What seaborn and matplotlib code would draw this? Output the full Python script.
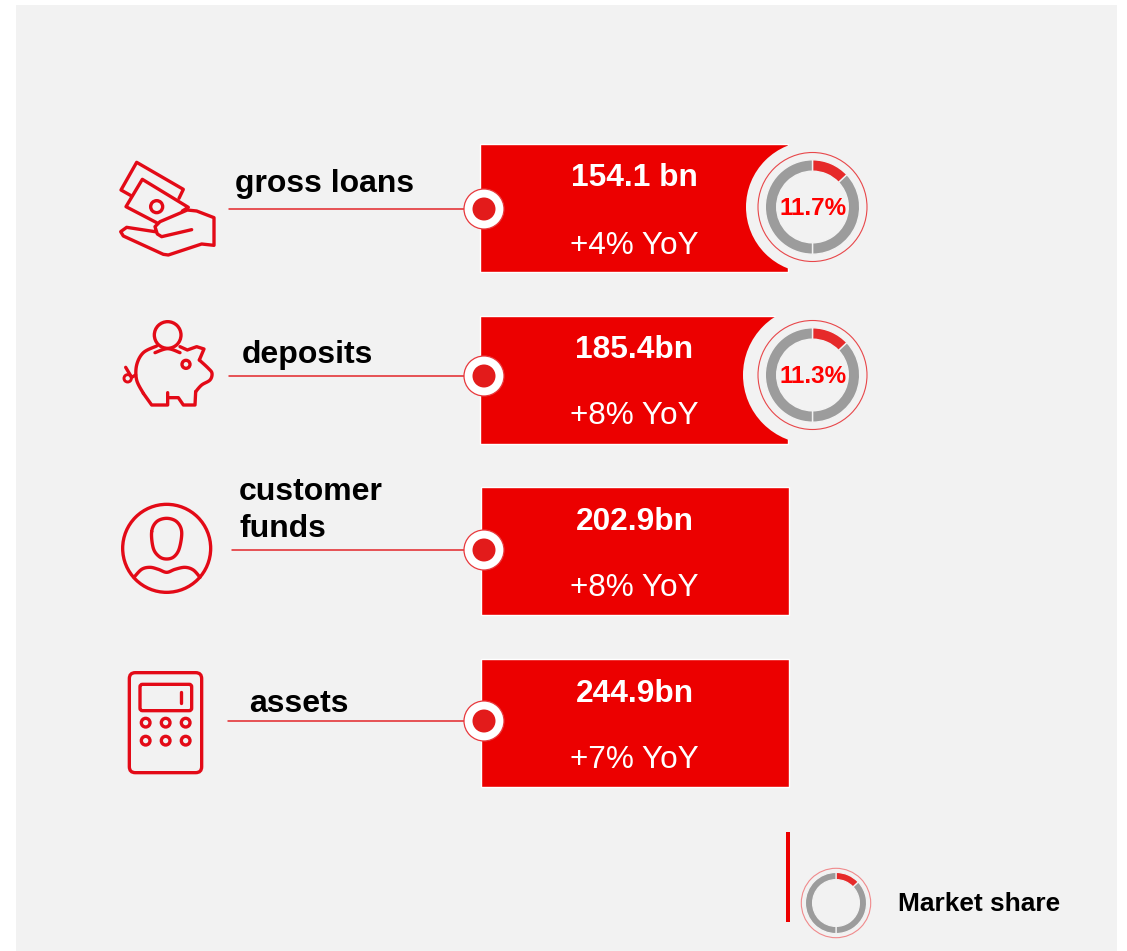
import numpy as np
import pandas as pd
import matplotlib
matplotlib.use("Agg")
import matplotlib.pyplot as plt
from matplotlib.patches import Circle, Rectangle, FancyBboxPatch
import seaborn as sns

# ---- data
metrics = ["gross loans", "deposits", "customer\nfunds", "assets"]
amounts = ["154.1 bn", "185.4bn", "202.9bn", "244.9bn"]
yoy = ["+4% YoY", "+8% YoY", "+8% YoY", "+7% YoY"]
market_share = ["11.7%", "11.3%"]
ring_parts = [13, 37, 50]          # the ring artwork: red arc, grey arc, grey half
legend_label = "Market share"

# ---- layout (pixels of the 1127x951 canvas)
box_centres = [208.0, 380.0, 551.0, 722.5]
box_lefts = [479.5, 479.5, 480.5, 480.5]
box_span = [308, 308, 308, 308]
box_height = 128.0
label_pos = [(235, 184), (242, 355), (239, 510.5), (249, 704)]
line_y = [209, 376, 550, 721]
line_x0 = [229, 229, 232, 228]
value_y = [178.5, 350.5, 522, 694]
yoy_y = [245.5, 416.5, 588.5, 760.5]
ring_centres = [(812.5, 207), (812.5, 375)]
cut_radius = [66, 69]

RED = "#EC0000"
ICON = "#E30A17"
DOT = "#E31B1B"
BG = "#F2F2F2"
GREY = "#9C9C9C"
ARC = "#E62A2A"
FONT = ["Liberation Sans", "DejaVu Sans"]

sns.set_theme(style="white")
plt.rcParams["font.family"] = FONT

fig = plt.figure(figsize=(11.27, 9.51), dpi=100, facecolor="white")
ax = fig.add_axes([0, 0, 1, 1])
ax.add_patch(Rectangle((16, 5), 1101, 946, fc=BG, ec="none", zorder=0))

table = pd.DataFrame({"centre": box_centres, "span": box_span})
sns.barplot(data=table, x="span", y="centre", orient="y", native_scale=True,
            width=box_height / 171, left=box_lefts, color=RED, saturation=1,
            legend=False, zorder=2, ax=ax)


def ring(cx, cy, outer, band, halo, halo_col, lw=1.0):
    ax.add_patch(Circle((cx, cy), halo, fc="none", ec=halo_col, lw=0.8, zorder=4))
    ax.pie(ring_parts, colors=[ARC, GREY, GREY], center=(cx, cy), radius=outer,
           startangle=-90, counterclock=True, frame=True,
           wedgeprops=dict(width=band, edgecolor=BG, linewidth=lw, zorder=5))


for (cx, cy), cut, share in zip(ring_centres, cut_radius, market_share):
    ax.add_patch(Circle((cx - 0.5, cy), cut, fc=BG, ec="none", zorder=3))
    ring(cx, cy, 47.2, 11.4, 54.5, "#E8474A")
    ax.text(cx + 0.5, cy + 1.5, share, color="#FF0000", fontsize=17.5, fontweight="bold",
            ha="center", va="center", zorder=6)

for i, name in enumerate(metrics):
    ax.plot([line_x0[i], 466], [line_y[i]] * 2, color="#E3262A", lw=1.1, zorder=2)
    ax.add_patch(Circle((484, line_y[i]), 20, fc="white", ec="#E8383C", lw=0.9, zorder=4))
    ax.add_patch(Circle((484, line_y[i]), 11.5, fc=DOT, ec="none", zorder=5))
    ax.text(label_pos[i][0], label_pos[i][1], name, color="black", fontsize=23,
            fontweight="bold", ha="left", va="center", linespacing=1.3, zorder=6)
    ax.text(634.5, value_y[i], amounts[i], color="white", fontsize=22.8,
            fontweight="bold", ha="center", va="center", zorder=6)
    ax.text(634.5, yoy_y[i], yoy[i], color="white", fontsize=22.7,
            ha="center", va="center", zorder=6)


# ---- line icons, drawn in zoom-crop coordinates
def smooth(pts, closed=False, n=10):
    p = np.asarray(pts, float)
    if closed:
        p = np.vstack([p[-1], p, p[0], p[1]])
    else:
        p = np.vstack([p[0], p, p[-1]])
    out = []
    for i in range(1, len(p) - 2):
        t = np.linspace(0, 1, n, endpoint=False)[:, None]
        a, b, c, d = p[i - 1], p[i], p[i + 1], p[i + 2]
        out.append(0.5 * (2 * b + (c - a) * t + (2 * a - 5 * b + 4 * c - d) * t ** 2
                          + (3 * b - a - 3 * c + d) * t ** 3))
    out.append(p[-2][None, :])
    return np.vstack(out)


LW = 2.4


def stroke(pts, ox, oy, s=3.0, lw=LW, col=ICON):
    p = np.asarray(pts, float)
    ax.plot(ox + p[:, 0] / s, oy + p[:, 1] / s, color=col, lw=lw,
            solid_capstyle="round", solid_joinstyle="round", zorder=3)


def ring_icon(x, y, r, ox, oy, s=3.0, lw=LW):
    ax.add_patch(Circle((ox + x / s, oy + y / s), r / s, fc="none", ec=ICON, lw=lw, zorder=3))


# hand with notes
o = (100, 130)
stroke([(237, 205), (250, 178), (110, 97), (63, 180), (95, 198)], *o)
stroke([(170, 278), (78, 230), (127, 148), (265, 232), (247, 243)], *o)
ring_icon(170, 230, 18, *o)
stroke([(275, 299), (185, 320), (172, 312), (165, 290), (180, 275), (262, 240), (290, 243),
        (342, 263), (342, 346), (305, 342), (205, 375), (190, 373), (70, 318),
        (62, 305), (80, 292), (165, 305)], *o)

# piggy bank
ring_icon(203, 615, 40, *o)
stroke(smooth([(165, 668), (203, 656), (240, 668)]), *o)
stroke(smooth([(170, 648), (130, 668), (110, 705), (110, 750), (130, 790)]), *o)
stroke([(130, 790), (155, 825), (203, 825), (203, 788)], *o)
stroke([(203, 803), (235, 803), (250, 825), (285, 825), (287, 785)], *o)
stroke(smooth([(287, 785), (305, 765), (330, 750), (336, 730), (325, 715), (298, 690)]), *o)
stroke([(298, 690), (312, 657), (290, 650), (262, 660), (240, 650)], *o)
ring_icon(258, 703, 12, *o)
stroke([(77, 712), (95, 742), (107, 735)], *o)
ring_icon(83, 745, 11, *o, lw=2.1)

# person
o = (100, 490)
ring_icon(200, 175, 132, *o)
stroke(smooth([(155, 125), (170, 95), (200, 85), (230, 95), (245, 125), (238, 175),
               (222, 200), (200, 207), (178, 200), (160, 175)], closed=True), *o)
stroke(smooth([(102, 262), (125, 238), (150, 232), (175, 238), (200, 247), (225, 238),
               (255, 232), (280, 240), (300, 262)]), *o)

# calculator
for (x0, y0, x1, y1, rad) in [(88, 548, 305, 848, 6), (120, 583, 275, 662, 2.5)]:
    ax.add_patch(FancyBboxPatch((o[0] + x0 / 3 + rad, o[1] + y0 / 3 + rad),
                                (x1 - x0) / 3 - 2 * rad, (y1 - y0) / 3 - 2 * rad,
                                boxstyle=f"round,pad={rad},rounding_size={rad}",
                                fc="none", ec=ICON, lw=LW, zorder=3))
stroke([(242, 607), (242, 638)], *o)
for yy in (698, 752):
    for xx in (137, 197, 257):
        ring_icon(xx, yy, 13, *o)

# legend
ax.add_patch(Rectangle((786, 832), 4, 90, fc=RED, ec="none", zorder=3))
ring(836, 903, 30.6, 7.2, 34.7, "#F08A8C", lw=0.9)
ax.text(898, 904, legend_label, color="black", fontsize=18.9, fontweight="bold",
        ha="left", va="center", zorder=6)

ax.set_aspect("auto")
ax.set_xlim(0, 1127)
ax.set_ylim(951, 0)
ax.set_axis_off()
fig.savefig("out.png", dpi=100, facecolor="white")
